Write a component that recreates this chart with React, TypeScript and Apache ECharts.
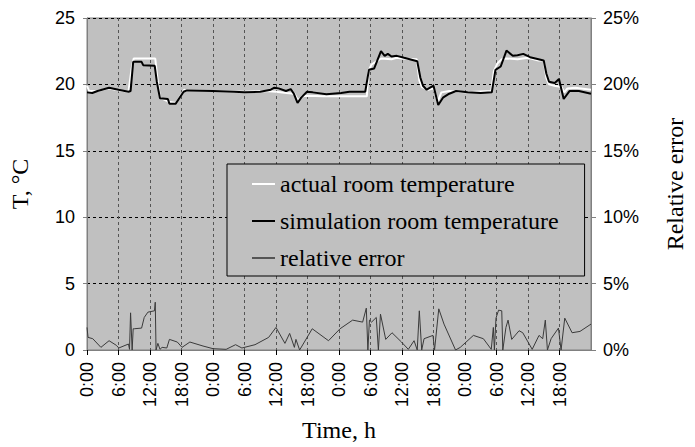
import React, { useEffect, useRef } from "react";
import * as echarts from "echarts";

// hours since start, temperature in °C
const actualTemp: [number, number][] = [
  [0, 19.9], [0.4, 19.5], [2, 19.5], [4, 19.7], [6, 19.55], [7.9, 19.45], [8.5, 21.2], [8.9, 21.95],
  [13, 21.95], [13.4, 20.5], [13.9, 19.0], [15.5, 18.7], [17, 18.6], [18.5, 19.6], [19, 19.55], [24, 19.5],
  [30, 19.45], [34, 19.5], [36, 19.45], [38, 19.35], [39.5, 19.3], [40.2, 18.8], [41, 19.1], [42, 19.15],
  [45, 19.1], [48, 19.1], [50, 19.1], [53.3, 19.1], [53.6, 21.0], [54.2, 21.5], [55, 21.7], [56, 21.95],
  [58, 21.9], [59, 22.0], [60, 21.95], [62.8, 21.9], [63.3, 20.3], [63.8, 19.8], [65, 19.6], [66, 19.7],
  [66.8, 18.7], [67.5, 19.4], [69, 19.5], [72, 19.4], [77, 19.5], [77.5, 21.0], [78.2, 21.6], [79, 21.9],
  [80, 21.95], [82, 21.9], [84, 22.0], [86, 21.8], [87, 21.8], [87.5, 20.5], [88, 20.0], [89, 19.9],
  [90.4, 19.8], [90.9, 19.4], [91.5, 19.7], [93, 19.75], [96, 19.6],
];

const simulatedTemp: [number, number][] = [
  [0, 19.4], [1, 19.35], [2, 19.5], [4.2, 19.75], [6, 19.6], [7.9, 19.45], [8.3, 19.5], [8.8, 21.7],
  [10.4, 21.7], [10.7, 21.45], [12.9, 21.4], [13.3, 20.2], [13.9, 18.95], [15.4, 18.9], [15.7, 18.55],
  [16.9, 18.55], [18.4, 19.45], [19, 19.55], [24, 19.5], [28, 19.45], [30, 19.4], [33, 19.45], [35, 19.6],
  [35.7, 19.75], [36.5, 19.7], [37.9, 19.5], [38.8, 19.65], [39.4, 19.3], [40.1, 18.6], [40.8, 19.0],
  [41.9, 19.45], [43, 19.4], [45.6, 19.25], [48.4, 19.35], [50, 19.45], [53, 19.45], [53.7, 21.1],
  [54.7, 21.2], [56, 22.5], [56.7, 22.15], [57.3, 22.3], [58, 22.1], [59, 22.15], [60.4, 22.0],
  [62.9, 21.75], [63.5, 20.5], [64, 19.9], [64.7, 19.6], [66, 19.9], [66.9, 18.45], [67.8, 19.0],
  [69, 19.3], [70.3, 19.5], [72.5, 19.4], [75, 19.35], [77.1, 19.4], [77.8, 21.1], [78.8, 21.35],
  [79.9, 22.55], [81.1, 22.15], [82, 22.2], [83.1, 22.3], [84.4, 22.05], [87, 21.8], [87.5, 20.8],
  [88, 20.2], [89.1, 20.1], [89.9, 20.4], [90.8, 18.9], [91.9, 19.5], [93.7, 19.5], [96, 19.3],
];

// relative error in %
const relativeError: [number, number][] = [
  [0, 1.7], [0.2, 0.95], [1.1, 0.85], [2.65, 0.2], [4.2, 0.7], [5.6, 0.35], [6.05, 0.15], [7.9, 0.45],
  [8.1, 0.05], [8.3, 2.8], [8.6, 0], [8.8, 1.6], [9, 1.6], [10.4, 1.65], [10.9, 2.45], [11.6, 2.85],
  [12.85, 2.95], [13, 3.6], [13.15, 0], [13.5, 0.5], [13.9, 0.05], [14.3, 0.2], [15.2, 0.15], [15.7, 0.8],
  [17.2, 0.6], [18.1, 0.2], [19.6, 0.6], [22.1, 0.3], [24, 0.1], [26.5, 0.05], [28.3, 0.4], [29.5, 0.15],
  [32, 0.4], [34.6, 0.95], [36, 1.7], [37.7, 0.5], [38.6, 1.25], [39.5, 0.2], [39.8, 0.8], [40.5, 0],
  [42.9, 1.6], [46, 0.7], [48.2, 1.6], [50.6, 2.25], [52.5, 2.1], [53.2, 3.15], [53.5, 0], [53.8, 2.25],
  [54.2, 2.1], [55.1, 2.45], [55.5, 0], [55.9, 2.7], [56.9, 0.8], [58.1, 1.3], [59.9, 0.6], [61.2, 0.05],
  [62.3, 0.7], [62.9, 0], [63.3, 2.95], [63.75, 0], [64.2, 0.85], [65.9, 1.1], [66.2, 0], [67, 3.1],
  [68, 1.95], [70.2, 0], [71.1, 0.2], [73.6, 1.1], [75.5, 0.85], [77, 0.05], [77.4, 1.7], [77.6, 0],
  [77.9, 2.4], [78.4, 3.0], [79, 2.95], [79.2, 0], [79.8, 1.7], [80.2, 2.25], [80.9, 0.8], [82.3, 1.45],
  [83, 1.3], [84.8, 0.05], [86.1, 1.1], [86.8, 0.85], [87.3, 2.25], [87.7, 0], [88.4, 0.85], [89.8, 1.65],
  [90.3, 0], [91, 2.4], [92.4, 1.3], [93.9, 1.4], [96, 1.95],
];

const seriesNames = ["actual room temperature", "simulation room temperature", "relative error"];
const tempTicks = { min: 0, max: 25, interval: 5 };
const timeTicks = { min: 0, max: 96, interval: 6 };

const SANS = "Liberation Sans, Arial, sans-serif";
const SERIF = "Liberation Serif, Times New Roman, serif";

export default function App() {
  const ref = useRef<HTMLDivElement>(null);
  useEffect(() => {
    if (!ref.current) return;
    const chart = echarts.init(ref.current, undefined, { renderer: "svg" });
    chart.setOption({
      animation: false,
      backgroundColor: "#ffffff",
      grid: {
        left: 83,
        right: 94,
        top: 18,
        bottom: 94,
        show: true,
        backgroundColor: "#c0c0c0",
        borderColor: "#808080",
        borderWidth: 1,
      },
      legend: {
        orient: "vertical",
        left: 227,
        top: 164,
        padding: [8, 26, 6, 25],
        itemGap: 13,
        itemWidth: 23,
        itemHeight: 2,
        icon: "rect",
        backgroundColor: "#c0c0c0",
        borderColor: "#000000",
        borderWidth: 1,
        textStyle: { fontFamily: SERIF, fontSize: 24, lineHeight: 24, color: "#000000" },
        data: [
          { name: seriesNames[0], itemStyle: { color: "#ffffff" } },
          { name: seriesNames[1], itemStyle: { color: "#000000" } },
          { name: seriesNames[2], itemStyle: { color: "#555555" } },
        ],
      },
      xAxis: {
        type: "value",
        min: timeTicks.min,
        max: timeTicks.max,
        interval: timeTicks.interval,
        name: "Time, h",
        nameLocation: "middle",
        nameGap: 68,
        nameTextStyle: { fontFamily: SERIF, fontSize: 24, color: "#000000" },
        axisLine: { show: true, lineStyle: { color: "#808080", width: 1 } },
        axisTick: { show: true, length: 5, lineStyle: { color: "#000000" } },
        axisLabel: {
          rotate: 90,
          margin: 12,
          fontFamily: SANS,
          fontSize: 18,
          color: "#000000",
          showMaxLabel: false,
          formatter: (v: number) => `${v % 24}:00`,
        },
        splitLine: { show: true, lineStyle: { color: "#555555", type: [3, 3], width: 1 } },
      },
      yAxis: [
        {
          type: "value",
          min: tempTicks.min,
          max: tempTicks.max,
          interval: tempTicks.interval,
          name: "T, °C",
          nameLocation: "middle",
          nameRotate: 90,
          nameGap: 55,
          nameTextStyle: { fontFamily: SERIF, fontSize: 24, color: "#000000" },
          axisLine: { show: true, lineStyle: { color: "#808080" } },
          axisTick: { show: true, length: 4, lineStyle: { color: "#808080" } },
          axisLabel: { fontFamily: SANS, fontSize: 18, color: "#000000", margin: 12 },
          splitLine: { show: true, lineStyle: { color: "#000000", type: [3, 3], width: 1 } },
        },
        {
          type: "value",
          position: "right",
          min: tempTicks.min,
          max: tempTicks.max,
          interval: tempTicks.interval,
          name: "Relative error",
          nameLocation: "middle",
          nameRotate: 90,
          nameGap: 72,
          nameTextStyle: { fontFamily: SERIF, fontSize: 24, color: "#000000" },
          axisLine: { show: true, lineStyle: { color: "#808080" } },
          axisTick: { show: true, length: 5, lineStyle: { color: "#808080" } },
          axisLabel: { fontFamily: SANS, fontSize: 18, color: "#000000", margin: 12, formatter: "{value}%" },
          splitLine: { show: false },
        },
      ],
      series: [
        {
          name: seriesNames[0],
          type: "line",
          data: actualTemp,
          symbol: "none",
          lineStyle: { color: "#ffffff", width: 2 },
          itemStyle: { color: "#ffffff" },
          z: 2,
        },
        {
          name: seriesNames[1],
          type: "line",
          data: simulatedTemp,
          symbol: "none",
          lineStyle: { color: "#000000", width: 2 },
          itemStyle: { color: "#000000" },
          z: 3,
        },
        {
          name: seriesNames[2],
          type: "line",
          yAxisIndex: 1,
          data: relativeError,
          symbol: "none",
          lineStyle: { color: "#3a3a3a", width: 1 },
          itemStyle: { color: "#3a3a3a" },
          z: 2,
        },
      ],
    });
    return () => chart.dispose();
  }, []);
  return <div ref={ref} style={{ position: "absolute", left: 0, top: 0, width: 695, height: 447 }} />;
}
